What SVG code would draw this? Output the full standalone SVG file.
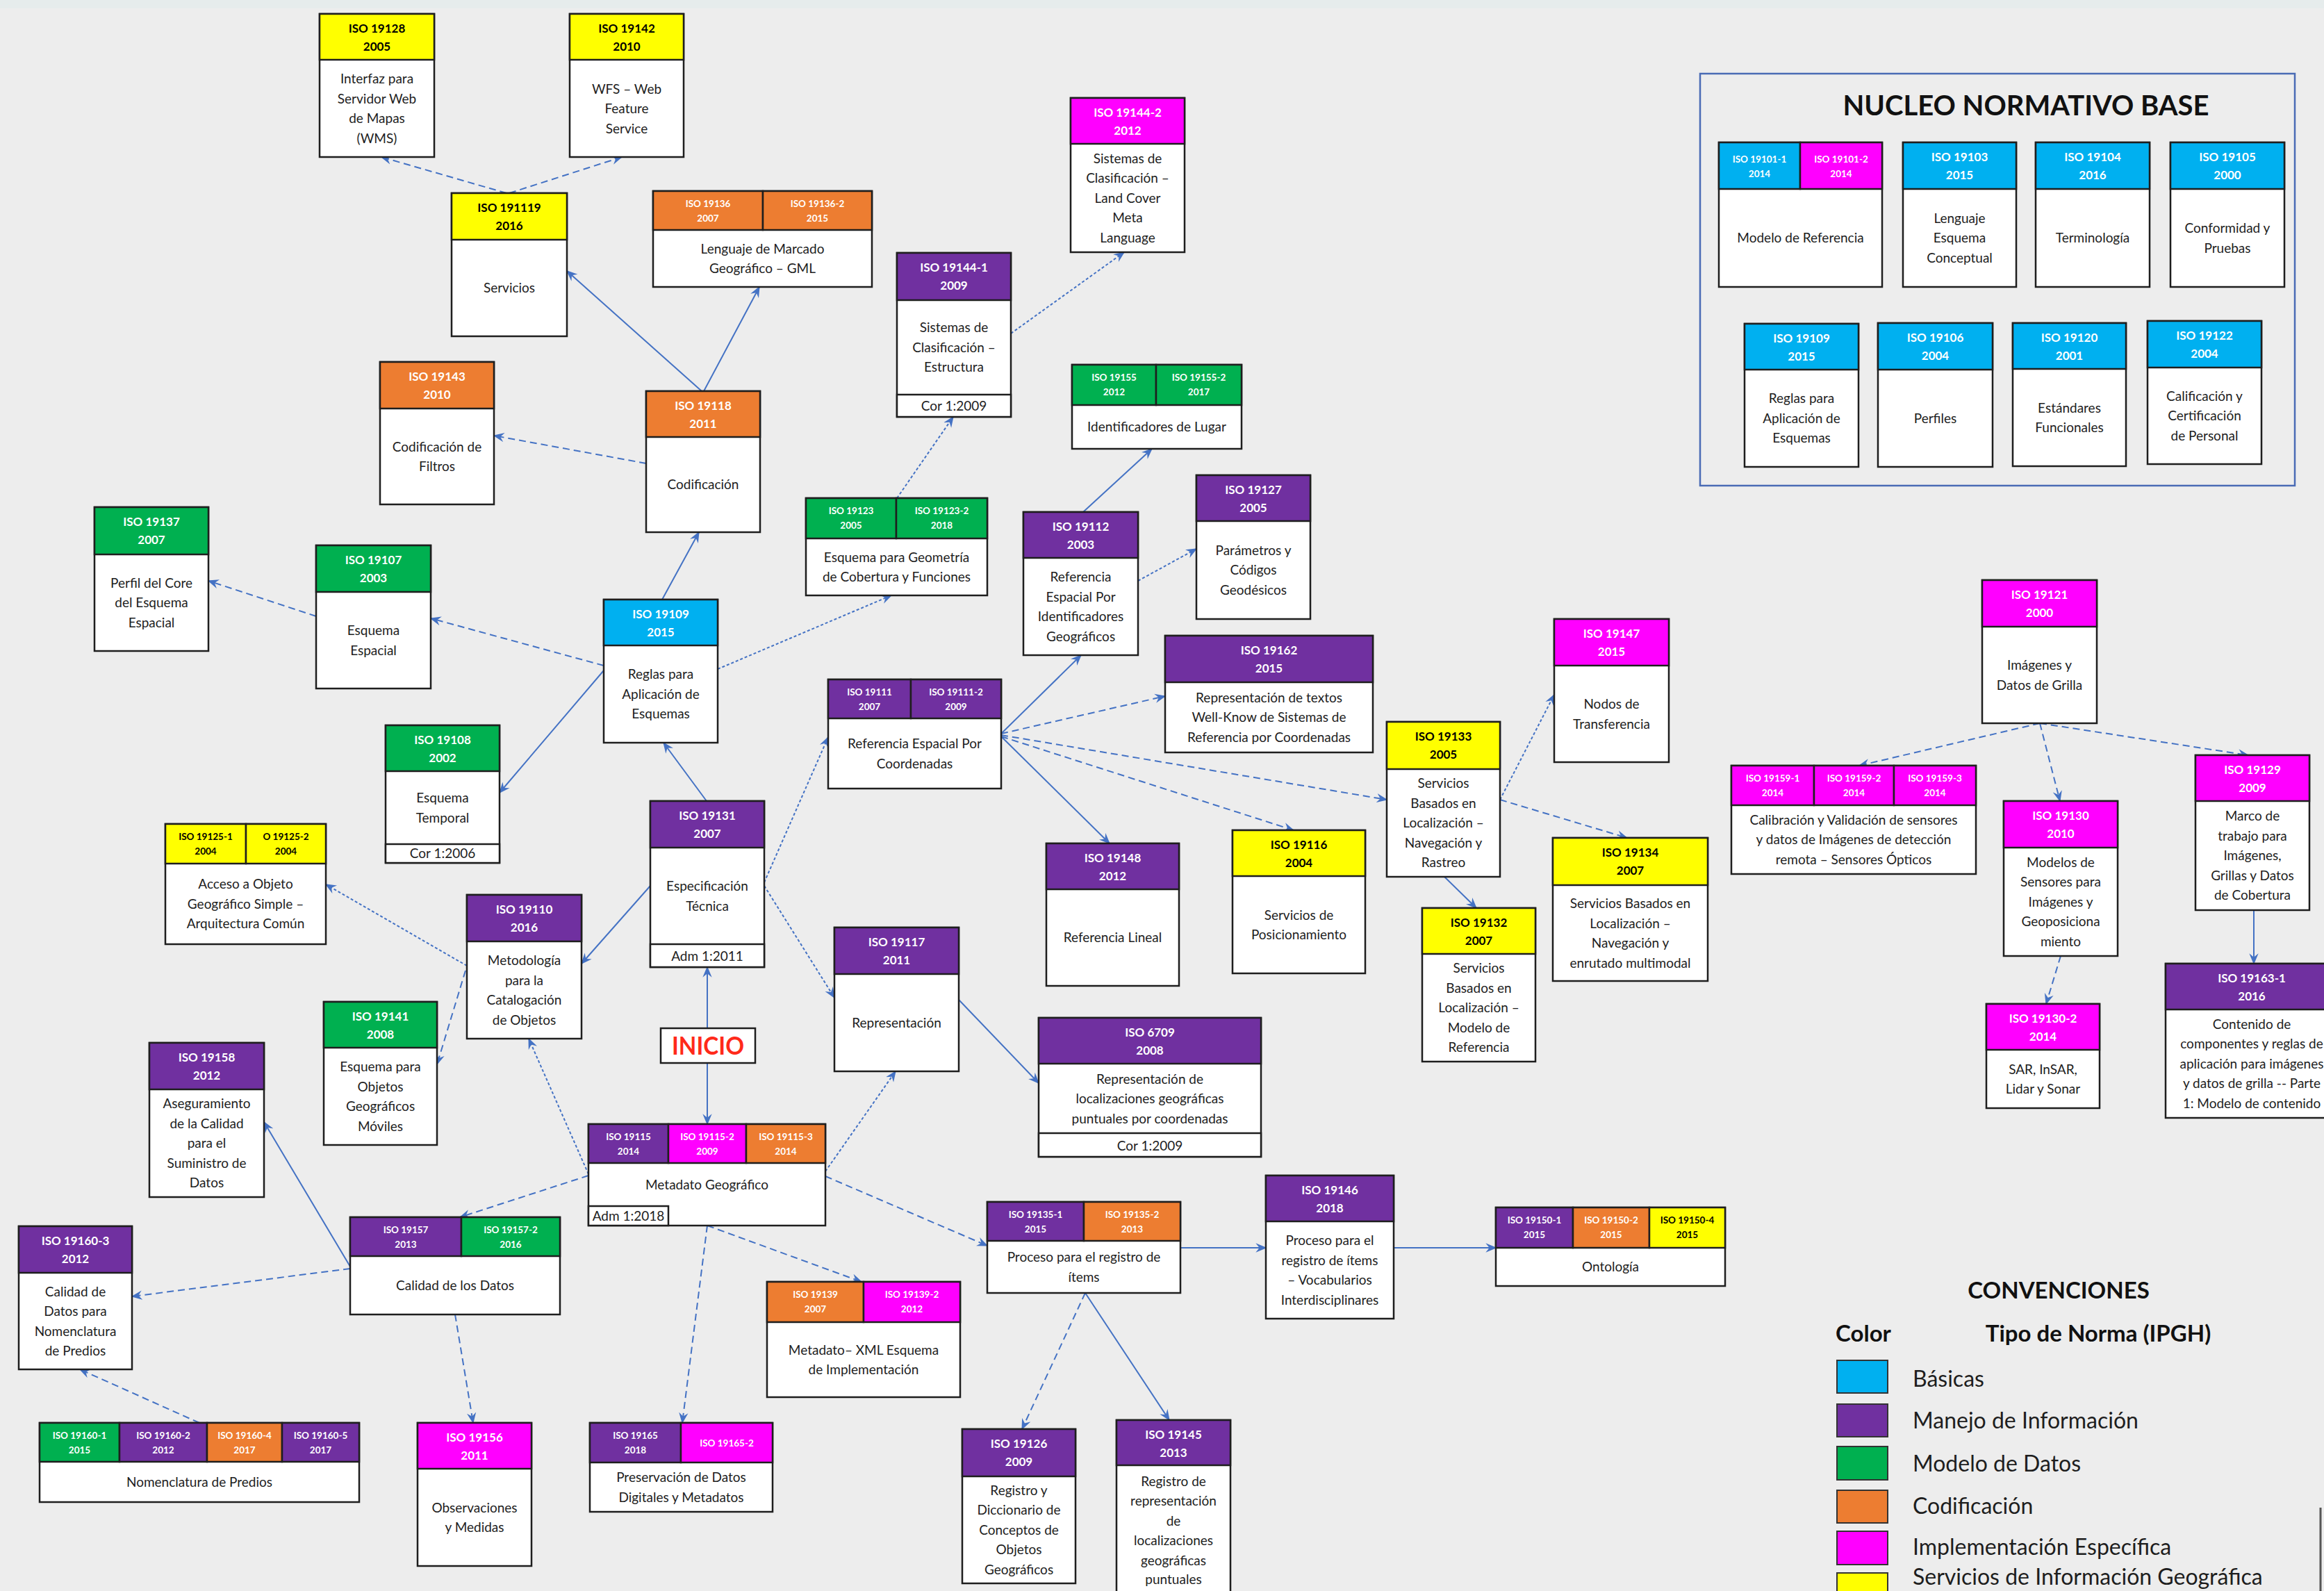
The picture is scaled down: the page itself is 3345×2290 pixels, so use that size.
<svg xmlns="http://www.w3.org/2000/svg" width="3345" height="2290" viewBox="0 0 3345 2290">
<defs>
<style>
text{font-family:Lato,"Liberation Sans",sans-serif}
.h{font-size:17px;font-weight:700;fill:#fff;text-anchor:middle}
.s{font-size:13.5px;font-weight:700;fill:#fff;text-anchor:middle}
.k{fill:#000}
.t{font-size:19px;fill:#1e1e1e;text-anchor:middle}
rect.n{stroke:#1e1e1e;stroke-width:2.5}
.w{fill:#fff}.cb{fill:#00b0f0}.pu{fill:#7030a0}.gr{fill:#00b050}.or{fill:#ed7d31}.mg{fill:#ff00ff}.ye{fill:#ffff00}
.c{fill:none;stroke:#4472c4;stroke-width:2;marker-end:url(#ah)}
.d{stroke-dasharray:10 6}
.o{stroke-dasharray:4 3}
.lt{font-size:33px;font-weight:700;fill:#111}
.lb{font-size:32px;fill:#1e1e1e}
.sw{stroke:#333;stroke-width:2}
</style>
<marker id="ah" viewBox="0 0 12 10" refX="11" refY="5" markerWidth="16" markerHeight="14" markerUnits="userSpaceOnUse" orient="auto"><path d="M0,0 L12,5 L0,10 L4,5 Z" fill="#4472c4"/></marker>
</defs>
<rect x="0" y="0" width="3345" height="2290" fill="#ededed"/>
<rect x="0" y="0" width="3345" height="12" fill="#e6ecec"/>
<line x1="3340" y1="2170" x2="3340" y2="2290" stroke="#555" stroke-width="3"/>

<g id="connectors">
<path class="c d" d="M729,278 L549,226"/>
<path class="c d" d="M733,278 L895,226"/>
<path class="c" d="M1013,563 L1093,413"/>
<path class="c" d="M1010,563 L816,390"/>
<path class="c d" d="M930,667 L711,627"/>
<path class="c o" d="M1291,717 L1372,600"/>
<path class="c o" d="M1455,480 L1618,363"/>
<path class="c" d="M1559,737 L1658,646"/>
<path class="c o" d="M1638,836 L1722,790"/>
<path class="c d" d="M455,887 L300,836"/>
<path class="c d" d="M869,958 L620,890"/>
<path class="c" d="M869,965 L719,1141"/>
<path class="c" d="M953,863 L1006,766"/>
<path class="c o" d="M1033,963 L1283,857"/>
<path class="c" d="M1017,1153 L955,1069"/>
<path class="c o" d="M1100,1270 L1192,1061"/>
<path class="c o" d="M1100,1275 L1201,1436"/>
<path class="c" d="M936,1275 L837,1387"/>
<path class="c" d="M1018,1480 L1018,1392"/>
<path class="c" d="M1018,1530 L1018,1618"/>
<path class="c" d="M1441,1056 L1556,943"/>
<path class="c d" d="M1441,1056 L1677,1002"/>
<path class="c d" d="M1441,1058 L1996,1151"/>
<path class="c d" d="M1441,1060 L1862,1195"/>
<path class="c" d="M1441,1060 L1597,1214"/>
<path class="c" d="M1380,1439 L1495,1559"/>
<path class="c o" d="M2159,1151 L2237,1000"/>
<path class="c d" d="M2159,1151 L2342,1206"/>
<path class="c" d="M2079,1262 L2125,1307"/>
<path class="c d" d="M2936,1041 L2676,1102"/>
<path class="c d" d="M2936,1041 L2965,1153"/>
<path class="c d" d="M2936,1041 L3236,1087"/>
<path class="c d" d="M2966,1376 L2945,1445"/>
<path class="c" d="M3244,1310 L3244,1387"/>
<path class="c o" d="M672,1390 L469,1273"/>
<path class="c d" d="M670,1397 L629,1532"/>
<path class="c o" d="M847,1690 L761,1495"/>
<path class="c d" d="M847,1692 L662,1752"/>
<path class="c" d="M504,1823 L380,1615"/>
<path class="c d" d="M504,1826 L190,1866"/>
<path class="c d" d="M287,2048 L115,1971"/>
<path class="c d" d="M655,1892 L681,2048"/>
<path class="c o" d="M1188,1686 L1289,1542"/>
<path class="c d" d="M1188,1693 L1421,1793"/>
<path class="c d" d="M1018,1764 L1240,1845"/>
<path class="c d" d="M1018,1764 L982,2048"/>
<path class="c" d="M1699,1796 L1822,1796"/>
<path class="c" d="M2006,1796 L2153,1796"/>
<path class="c d" d="M1562,1861 L1471,2057"/>
<path class="c" d="M1562,1861 L1683,2044"/>
</g>

<g id="n19128"><rect class="n w" x="460" y="20" width="165" height="206"/><rect class="n ye" x="460" y="20" width="165" height="66"/>
<text class="h k" x="542.5" y="47">ISO 19128</text><text class="h k" x="542.5" y="73">2005</text>
<text class="t"><tspan x="542.5" y="120">Interfaz para</tspan><tspan x="542.5" y="149">Servidor Web</tspan><tspan x="542.5" y="177">de Mapas</tspan><tspan x="542.5" y="206">(WMS)</tspan></text></g>

<g id="n19142"><rect class="n w" x="820" y="20" width="164" height="206"/><rect class="n ye" x="820" y="20" width="164" height="66"/>
<text class="h k" x="902" y="47">ISO 19142</text><text class="h k" x="902" y="73">2010</text>
<text class="t"><tspan x="902" y="135">WFS – Web</tspan><tspan x="902" y="163">Feature</tspan><tspan x="902" y="192">Service</tspan></text></g>

<g id="n191119"><rect class="n w" x="650" y="278" width="166" height="206"/><rect class="n ye" x="650" y="278" width="166" height="67"/>
<text class="h k" x="733" y="305">ISO 191119</text><text class="h k" x="733" y="331">2016</text>
<text class="t" x="733" y="421">Servicios</text></g>

<g id="n19136"><rect class="n w" x="940" y="275" width="315" height="138"/><rect class="n or" x="940" y="275" width="158" height="56"/><rect class="n or" x="1098" y="275" width="157" height="56"/>
<text class="s" x="1019" y="298">ISO 19136</text><text class="s" x="1019" y="319">2007</text><text class="s" x="1176.5" y="298">ISO 19136-2</text><text class="s" x="1176.5" y="319">2015</text>
<text class="t"><tspan x="1097.5" y="365">Lenguaje de Marcado</tspan><tspan x="1097.5" y="393">Geográfico – GML</tspan></text></g>

<g id="n19144-2"><rect class="n w" x="1541" y="141" width="164" height="222"/><rect class="n mg" x="1541" y="141" width="164" height="66"/>
<text class="h" x="1623" y="168">ISO 19144-2</text><text class="h" x="1623" y="194">2012</text>
<text class="t"><tspan x="1623" y="235">Sistemas de</tspan><tspan x="1623" y="263">Clasificación –</tspan><tspan x="1623" y="292">Land Cover</tspan><tspan x="1623" y="320">Meta</tspan><tspan x="1623" y="349">Language</tspan></text></g>

<g id="n19144-1"><rect class="n w" x="1291" y="364" width="164" height="236"/><rect class="n pu" x="1291" y="364" width="164" height="68"/><rect class="n w" x="1291" y="568" width="164" height="32"/>
<text class="h" x="1373" y="391">ISO 19144-1</text><text class="h" x="1373" y="417">2009</text>
<text class="t"><tspan x="1373" y="478">Sistemas de</tspan><tspan x="1373" y="507">Clasificación –</tspan><tspan x="1373" y="535">Estructura</tspan></text>
<text class="t" x="1373" y="591">Cor 1:2009</text></g>

<g id="n19143"><rect class="n w" x="547" y="521" width="164" height="205"/><rect class="n or" x="547" y="521" width="164" height="67"/>
<text class="h" x="629" y="548">ISO 19143</text><text class="h" x="629" y="574">2010</text>
<text class="t"><tspan x="629" y="650">Codificación de</tspan><tspan x="629" y="678">Filtros</tspan></text></g>

<g id="n19118"><rect class="n w" x="930" y="563" width="164" height="203"/><rect class="n or" x="930" y="563" width="164" height="66"/>
<text class="h" x="1012" y="590">ISO 19118</text><text class="h" x="1012" y="616">2011</text>
<text class="t" x="1012" y="704">Codificación</text></g>

<g id="n19155"><rect class="n w" x="1543" y="525" width="244" height="121"/><rect class="n gr" x="1543" y="525" width="121" height="58"/><rect class="n gr" x="1664" y="525" width="123" height="58"/>
<text class="s" x="1603.5" y="548">ISO 19155</text><text class="s" x="1603.5" y="569">2012</text><text class="s" x="1725.5" y="548">ISO 19155-2</text><text class="s" x="1725.5" y="569">2017</text>
<text class="t" x="1665" y="621">Identificadores de Lugar</text></g>

<g id="n19123"><rect class="n w" x="1160" y="717" width="261" height="140"/><rect class="n gr" x="1160" y="717" width="130" height="58"/><rect class="n gr" x="1290" y="717" width="131" height="58"/>
<text class="s" x="1225" y="740">ISO 19123</text><text class="s" x="1225" y="761">2005</text><text class="s" x="1355.5" y="740">ISO 19123-2</text><text class="s" x="1355.5" y="761">2018</text>
<text class="t"><tspan x="1290.5" y="809">Esquema para Geometría</tspan><tspan x="1290.5" y="837">de Cobertura y Funciones</tspan></text></g>

<g id="n19112"><rect class="n w" x="1473" y="737" width="165" height="206"/><rect class="n pu" x="1473" y="737" width="165" height="66"/>
<text class="h" x="1555.5" y="764">ISO 19112</text><text class="h" x="1555.5" y="790">2003</text>
<text class="t"><tspan x="1555.5" y="837">Referencia</tspan><tspan x="1555.5" y="866">Espacial Por</tspan><tspan x="1555.5" y="894">Identificadores</tspan><tspan x="1555.5" y="923">Geográficos</tspan></text></g>

<g id="n19127"><rect class="n w" x="1722" y="684" width="164" height="207"/><rect class="n pu" x="1722" y="684" width="164" height="66"/>
<text class="h" x="1804" y="711">ISO 19127</text><text class="h" x="1804" y="737">2005</text>
<text class="t"><tspan x="1804" y="799">Parámetros y</tspan><tspan x="1804" y="827">Códigos</tspan><tspan x="1804" y="856">Geodésicos</tspan></text></g>

<g id="n19137"><rect class="n w" x="136" y="730" width="164" height="207"/><rect class="n gr" x="136" y="730" width="164" height="68"/>
<text class="h" x="218" y="757">ISO 19137</text><text class="h" x="218" y="783">2007</text>
<text class="t"><tspan x="218" y="846">Perfil del Core</tspan><tspan x="218" y="874">del Esquema</tspan><tspan x="218" y="903">Espacial</tspan></text></g>

<g id="n19107"><rect class="n w" x="455" y="785" width="165" height="206"/><rect class="n gr" x="455" y="785" width="165" height="67"/>
<text class="h" x="537.5" y="812">ISO 19107</text><text class="h" x="537.5" y="838">2003</text>
<text class="t"><tspan x="537.5" y="914">Esquema</tspan><tspan x="537.5" y="943">Espacial</tspan></text></g>

<g id="n19109"><rect class="n w" x="869" y="863" width="164" height="206"/><rect class="n cb" x="869" y="863" width="164" height="66"/>
<text class="h" x="951" y="890">ISO 19109</text><text class="h" x="951" y="916">2015</text>
<text class="t"><tspan x="951" y="977">Reglas para</tspan><tspan x="951" y="1006">Aplicación de</tspan><tspan x="951" y="1034">Esquemas</tspan></text></g>

<g id="n19108"><rect class="n w" x="555" y="1044" width="164" height="198"/><rect class="n gr" x="555" y="1044" width="164" height="66"/><rect class="n w" x="555" y="1215" width="164" height="27"/>
<text class="h" x="637" y="1071">ISO 19108</text><text class="h" x="637" y="1097">2002</text>
<text class="t"><tspan x="637" y="1155">Esquema</tspan><tspan x="637" y="1184">Temporal</tspan></text>
<text class="t" x="637" y="1235">Cor 1:2006</text></g>

<g id="n19111"><rect class="n w" x="1192" y="978" width="249" height="157"/><rect class="n pu" x="1192" y="978" width="119" height="56"/><rect class="n pu" x="1311" y="978" width="130" height="56"/>
<text class="s" x="1251.5" y="1001">ISO 19111</text><text class="s" x="1251.5" y="1022">2007</text><text class="s" x="1376" y="1001">ISO 19111-2</text><text class="s" x="1376" y="1022">2009</text>
<text class="t"><tspan x="1316.5" y="1077">Referencia Espacial Por</tspan><tspan x="1316.5" y="1106">Coordenadas</tspan></text></g>

<g id="n19162"><rect class="n w" x="1677" y="915" width="299" height="168"/><rect class="n pu" x="1677" y="915" width="299" height="67"/>
<text class="h" x="1826.5" y="942">ISO 19162</text><text class="h" x="1826.5" y="968">2015</text>
<text class="t"><tspan x="1826.5" y="1011">Representación de textos</tspan><tspan x="1826.5" y="1039">Well-Know de Sistemas de</tspan><tspan x="1826.5" y="1068">Referencia  por Coordenadas</tspan></text></g>

<g id="n19147"><rect class="n w" x="2237" y="891" width="165" height="206"/><rect class="n mg" x="2237" y="891" width="165" height="67"/>
<text class="h" x="2319.5" y="918">ISO 19147</text><text class="h" x="2319.5" y="944">2015</text>
<text class="t"><tspan x="2319.5" y="1020">Nodos de</tspan><tspan x="2319.5" y="1049">Transferencia</tspan></text></g>

<g id="n19133"><rect class="n w" x="1996" y="1039" width="163" height="223"/><rect class="n ye" x="1996" y="1039" width="163" height="68"/>
<text class="h k" x="2077.5" y="1066">ISO 19133</text><text class="h k" x="2077.5" y="1092">2005</text>
<text class="t"><tspan x="2077.5" y="1134">Servicios</tspan><tspan x="2077.5" y="1163">Basados en</tspan><tspan x="2077.5" y="1191">Localización –</tspan><tspan x="2077.5" y="1220">Navegación y</tspan><tspan x="2077.5" y="1248">Rastreo</tspan></text></g>

<g id="n19125"><rect class="n w" x="238" y="1186" width="231" height="173"/><rect class="n ye" x="238" y="1186" width="116" height="57"/><rect class="n ye" x="354" y="1186" width="115" height="57"/>
<text class="s k" x="296" y="1209">ISO 19125-1</text><text class="s k" x="296" y="1230">2004</text><text class="s k" x="411.5" y="1209">O 19125-2</text><text class="s k" x="411.5" y="1230">2004</text>
<text class="t"><tspan x="353.5" y="1279">Acceso a Objeto</tspan><tspan x="353.5" y="1308">Geográfico Simple –</tspan><tspan x="353.5" y="1336">Arquitectura Común</tspan></text></g>

<g id="n19131"><rect class="n w" x="936" y="1153" width="164" height="239"/><rect class="n pu" x="936" y="1153" width="164" height="67"/><rect class="n w" x="936" y="1359" width="164" height="33"/>
<text class="h" x="1018" y="1180">ISO 19131</text><text class="h" x="1018" y="1206">2007</text>
<text class="t"><tspan x="1018" y="1282">Especificación</tspan><tspan x="1018" y="1311">Técnica</tspan></text>
<text class="t" x="1018" y="1383">Adm 1:2011</text></g>

<g id="n19148"><rect class="n w" x="1506" y="1214" width="191" height="205"/><rect class="n pu" x="1506" y="1214" width="191" height="66"/>
<text class="h" x="1601.5" y="1241">ISO 19148</text><text class="h" x="1601.5" y="1267">2012</text>
<text class="t" x="1601.5" y="1356">Referencia  Lineal</text></g>

<g id="n19116"><rect class="n w" x="1774" y="1195" width="191" height="206"/><rect class="n ye" x="1774" y="1195" width="191" height="66"/>
<text class="h k" x="1869.5" y="1222">ISO 19116</text><text class="h k" x="1869.5" y="1248">2004</text>
<text class="t"><tspan x="1869.5" y="1324">Servicios de</tspan><tspan x="1869.5" y="1352">Posicionamiento</tspan></text></g>

<g id="n19134"><rect class="n w" x="2235" y="1206" width="223" height="206"/><rect class="n ye" x="2235" y="1206" width="223" height="68"/>
<text class="h k" x="2346.5" y="1233">ISO 19134</text><text class="h k" x="2346.5" y="1259">2007</text>
<text class="t"><tspan x="2346.5" y="1307">Servicios Basados en</tspan><tspan x="2346.5" y="1336">Localización –</tspan><tspan x="2346.5" y="1364">Navegación y</tspan><tspan x="2346.5" y="1393">enrutado multimodal</tspan></text></g>

<g id="n19110"><rect class="n w" x="672" y="1288" width="165" height="207"/><rect class="n pu" x="672" y="1288" width="165" height="67"/>
<text class="h" x="754.5" y="1315">ISO 19110</text><text class="h" x="754.5" y="1341">2016</text>
<text class="t"><tspan x="754.5" y="1389">Metodología</tspan><tspan x="754.5" y="1418">para la</tspan><tspan x="754.5" y="1446">Catalogación</tspan><tspan x="754.5" y="1475">de Objetos</tspan></text></g>

<g id="n19132"><rect class="n w" x="2047" y="1307" width="163" height="221"/><rect class="n ye" x="2047" y="1307" width="163" height="66"/>
<text class="h k" x="2128.5" y="1334">ISO 19132</text><text class="h k" x="2128.5" y="1360">2007</text>
<text class="t"><tspan x="2128.5" y="1400">Servicios</tspan><tspan x="2128.5" y="1429">Basados en</tspan><tspan x="2128.5" y="1457">Localización –</tspan><tspan x="2128.5" y="1486">Modelo de</tspan><tspan x="2128.5" y="1514">Referencia</tspan></text></g>

<g id="n19117"><rect class="n w" x="1201" y="1335" width="179" height="207"/><rect class="n pu" x="1201" y="1335" width="179" height="67"/>
<text class="h" x="1290.5" y="1362">ISO 19117</text><text class="h" x="1290.5" y="1388">2011</text>
<text class="t" x="1290.5" y="1479">Representación</text></g>

<g id="n19141"><rect class="n w" x="466" y="1442" width="163" height="206"/><rect class="n gr" x="466" y="1442" width="163" height="66"/>
<text class="h" x="547.5" y="1469">ISO 19141</text><text class="h" x="547.5" y="1495">2008</text>
<text class="t"><tspan x="547.5" y="1542">Esquema para</tspan><tspan x="547.5" y="1571">Objetos</tspan><tspan x="547.5" y="1599">Geográficos</tspan><tspan x="547.5" y="1628">Móviles</tspan></text></g>

<g id="inicio"><rect x="951" y="1480" width="136" height="50" fill="#fff" stroke="#1e1e1e" stroke-width="2.5"/>
<text x="1019" y="1518" text-anchor="middle" font-size="36" font-weight="700" fill="#ff2a1a" textLength="104" lengthAdjust="spacingAndGlyphs">INICIO</text></g>

<g id="n6709"><rect class="n w" x="1495" y="1465" width="320" height="200"/><rect class="n pu" x="1495" y="1465" width="320" height="66"/><rect class="n w" x="1495" y="1631" width="320" height="34"/>
<text class="h" x="1655" y="1492">ISO 6709</text><text class="h" x="1655" y="1518">2008</text>
<text class="t"><tspan x="1655" y="1560">Representación de</tspan><tspan x="1655" y="1588">localizaciones geográficas</tspan><tspan x="1655" y="1617">puntuales por coordenadas</tspan></text>
<text class="t" x="1655" y="1656">Cor 1:2009</text></g>

<g id="n19158"><rect class="n w" x="215" y="1501" width="165" height="222"/><rect class="n pu" x="215" y="1501" width="165" height="67"/>
<text class="h" x="297.5" y="1528">ISO 19158</text><text class="h" x="297.5" y="1554">2012</text>
<text class="t"><tspan x="297.5" y="1595">Aseguramiento</tspan><tspan x="297.5" y="1624">de la Calidad</tspan><tspan x="297.5" y="1652">para el</tspan><tspan x="297.5" y="1681">Suministro de</tspan><tspan x="297.5" y="1709">Datos</tspan></text></g>

<g id="n19115"><rect class="n w" x="847" y="1618" width="341" height="146"/><rect class="n pu" x="847" y="1618" width="115" height="56"/><rect class="n mg" x="962" y="1618" width="112" height="56"/><rect class="n or" x="1074" y="1618" width="114" height="56"/><rect class="n w" x="847" y="1736" width="115" height="28"/>
<text class="s" x="904.5" y="1641">ISO 19115</text><text class="s" x="904.5" y="1662">2014</text><text class="s" x="1018" y="1641">ISO 19115-2</text><text class="s" x="1018" y="1662">2009</text><text class="s" x="1131" y="1641">ISO 19115-3</text><text class="s" x="1131" y="1662">2014</text>
<text class="t" x="1017.5" y="1712">Metadato Geográfico</text>
<text class="t" x="904.5" y="1757" font-size="17">Adm 1:2018</text></g>

<g id="n19135"><rect class="n w" x="1421" y="1730" width="278" height="131"/><rect class="n pu" x="1421" y="1730" width="139" height="56"/><rect class="n or" x="1560" y="1730" width="139" height="56"/>
<text class="s" x="1490.5" y="1753">ISO 19135-1</text><text class="s" x="1490.5" y="1774">2015</text><text class="s" x="1629.5" y="1753">ISO 19135-2</text><text class="s" x="1629.5" y="1774">2013</text>
<text class="t"><tspan x="1560" y="1816">Proceso para el registro de</tspan><tspan x="1560" y="1845">ítems</tspan></text></g>

<g id="n19146"><rect class="n w" x="1822" y="1692" width="184" height="206"/><rect class="n pu" x="1822" y="1692" width="184" height="66"/>
<text class="h" x="1914" y="1719">ISO 19146</text><text class="h" x="1914" y="1745">2018</text>
<text class="t"><tspan x="1914" y="1792">Proceso para el</tspan><tspan x="1914" y="1821">registro de ítems</tspan><tspan x="1914" y="1849">– Vocabularios</tspan><tspan x="1914" y="1878">Interdisciplinares</tspan></text></g>

<g id="n19150"><rect class="n w" x="2153" y="1738" width="330" height="113"/><rect class="n pu" x="2153" y="1738" width="111" height="58"/><rect class="n or" x="2264" y="1738" width="110" height="58"/><rect class="n ye" x="2374" y="1738" width="109" height="58"/>
<text class="s" x="2208.5" y="1761">ISO 19150-1</text><text class="s" x="2208.5" y="1782">2015</text><text class="s" x="2319" y="1761">ISO 19150-2</text><text class="s" x="2319" y="1782">2015</text><text class="s k" x="2428.5" y="1761">ISO 19150-4</text><text class="s k" x="2428.5" y="1782">2015</text>
<text class="t" x="2318" y="1830">Ontología</text></g>

<g id="n19160-3"><rect class="n w" x="27" y="1765" width="163" height="206"/><rect class="n pu" x="27" y="1765" width="163" height="67"/>
<text class="h" x="108.5" y="1792">ISO 19160-3</text><text class="h" x="108.5" y="1818">2012</text>
<text class="t"><tspan x="108.5" y="1866">Calidad de</tspan><tspan x="108.5" y="1894">Datos para</tspan><tspan x="108.5" y="1923">Nomenclatura</tspan><tspan x="108.5" y="1951">de Predios</tspan></text></g>

<g id="n19157"><rect class="n w" x="504" y="1752" width="302" height="140"/><rect class="n pu" x="504" y="1752" width="160" height="56"/><rect class="n gr" x="664" y="1752" width="142" height="56"/>
<text class="s" x="584" y="1775">ISO 19157</text><text class="s" x="584" y="1796">2013</text><text class="s" x="735" y="1775">ISO 19157-2</text><text class="s" x="735" y="1796">2016</text>
<text class="t" x="655" y="1857">Calidad de los Datos</text></g>

<g id="n19139"><rect class="n w" x="1104" y="1845" width="278" height="166"/><rect class="n or" x="1104" y="1845" width="139" height="58"/><rect class="n mg" x="1243" y="1845" width="139" height="58"/>
<text class="s" x="1173.5" y="1868">ISO 19139</text><text class="s" x="1173.5" y="1889">2007</text><text class="s" x="1312.5" y="1868">ISO 19139-2</text><text class="s" x="1312.5" y="1889">2012</text>
<text class="t"><tspan x="1243" y="1950">Metadato– XML Esquema</tspan><tspan x="1243" y="1978">de Implementación</tspan></text></g>

<g id="n19160"><rect class="n w" x="57" y="2048" width="460" height="114"/><rect class="n gr" x="57" y="2048" width="115" height="56"/><rect class="n pu" x="172" y="2048" width="126" height="56"/><rect class="n or" x="298" y="2048" width="108" height="56"/><rect class="n pu" x="406" y="2048" width="111" height="56"/>
<text class="s" x="114.5" y="2071">ISO 19160-1</text><text class="s" x="114.5" y="2092">2015</text><text class="s" x="235" y="2071">ISO 19160-2</text><text class="s" x="235" y="2092">2012</text><text class="s" x="352" y="2071">ISO 19160-4</text><text class="s" x="352" y="2092">2017</text><text class="s" x="461.5" y="2071">ISO 19160-5</text><text class="s" x="461.5" y="2092">2017</text>
<text class="t" x="287" y="2140">Nomenclatura de Predios</text></g>

<g id="n19156"><rect class="n w" x="601" y="2048" width="164" height="206"/><rect class="n mg" x="601" y="2048" width="164" height="66"/>
<text class="h" x="683" y="2075">ISO 19156</text><text class="h" x="683" y="2101">2011</text>
<text class="t"><tspan x="683" y="2177">Observaciones</tspan><tspan x="683" y="2205">y Medidas</tspan></text></g>

<g id="n19165"><rect class="n w" x="849" y="2048" width="263" height="128"/><rect class="n pu" x="849" y="2048" width="131" height="57"/><rect class="n mg" x="980" y="2048" width="132" height="57"/>
<text class="s" x="914.5" y="2071">ISO 19165</text><text class="s" x="914.5" y="2092">2018</text><text class="s" x="1046" y="2082">ISO 19165-2</text>
<text class="t"><tspan x="980.5" y="2133">Preservación de Datos</tspan><tspan x="980.5" y="2162">Digitales y Metadatos</tspan></text></g>

<g id="n19126"><rect class="n w" x="1385" y="2057" width="163" height="222"/><rect class="n pu" x="1385" y="2057" width="163" height="68"/>
<text class="h" x="1466.5" y="2084">ISO 19126</text><text class="h" x="1466.5" y="2110">2009</text>
<text class="t"><tspan x="1466.5" y="2152">Registro y</tspan><tspan x="1466.5" y="2180">Diccionario de</tspan><tspan x="1466.5" y="2209">Conceptos de</tspan><tspan x="1466.5" y="2237">Objetos</tspan><tspan x="1466.5" y="2266">Geográficos</tspan></text></g>

<g id="n19145"><rect class="n w" x="1607" y="2044" width="164" height="260"/><rect class="n pu" x="1607" y="2044" width="164" height="65"/>
<text class="h" x="1689" y="2071">ISO 19145</text><text class="h" x="1689" y="2097">2013</text>
<text class="t"><tspan x="1689" y="2139">Registro de</tspan><tspan x="1689" y="2167">representación</tspan><tspan x="1689" y="2196">de</tspan><tspan x="1689" y="2224">localizaciones</tspan><tspan x="1689" y="2253">geográficas</tspan><tspan x="1689" y="2280">puntuales</tspan></text></g>

<g id="n19121"><rect class="n w" x="2853" y="835" width="165" height="206"/><rect class="n mg" x="2853" y="835" width="165" height="67"/>
<text class="h" x="2935.5" y="862">ISO 19121</text><text class="h" x="2935.5" y="888">2000</text>
<text class="t"><tspan x="2935.5" y="964">Imágenes y</tspan><tspan x="2935.5" y="993">Datos de Grilla</tspan></text></g>

<g id="n19159"><rect class="n w" x="2492" y="1102" width="352" height="156"/><rect class="n mg" x="2492" y="1102" width="119" height="57"/><rect class="n mg" x="2611" y="1102" width="115" height="57"/><rect class="n mg" x="2726" y="1102" width="118" height="57"/>
<text class="s" x="2551.5" y="1125">ISO 19159-1</text><text class="s" x="2551.5" y="1146">2014</text><text class="s" x="2668.5" y="1125">ISO 19159-2</text><text class="s" x="2668.5" y="1146">2014</text><text class="s" x="2785" y="1125">ISO 19159-3</text><text class="s" x="2785" y="1146">2014</text>
<text class="t"><tspan x="2668" y="1187">Calibración y Validación de sensores</tspan><tspan x="2668" y="1215">y datos de Imágenes de detección</tspan><tspan x="2668" y="1244">remota – Sensores Ópticos</tspan></text></g>

<g id="n19130"><rect class="n w" x="2884" y="1153" width="164" height="223"/><rect class="n mg" x="2884" y="1153" width="164" height="67"/>
<text class="h" x="2966" y="1180">ISO 19130</text><text class="h" x="2966" y="1206">2010</text>
<text class="t"><tspan x="2966" y="1248">Modelos de</tspan><tspan x="2966" y="1276">Sensores para</tspan><tspan x="2966" y="1305">Imágenes y</tspan><tspan x="2966" y="1333">Geoposiciona</tspan><tspan x="2966" y="1362">miento</tspan></text></g>

<g id="n19129"><rect class="n w" x="3160" y="1087" width="164" height="223"/><rect class="n mg" x="3160" y="1087" width="164" height="66"/>
<text class="h" x="3242" y="1114">ISO 19129</text><text class="h" x="3242" y="1140">2009</text>
<text class="t"><tspan x="3242" y="1181">Marco de</tspan><tspan x="3242" y="1210">trabajo para</tspan><tspan x="3242" y="1238">Imágenes,</tspan><tspan x="3242" y="1267">Grillas y Datos</tspan><tspan x="3242" y="1295">de Cobertura</tspan></text></g>

<g id="n19130-2"><rect class="n w" x="2859" y="1445" width="163" height="150"/><rect class="n mg" x="2859" y="1445" width="163" height="66"/>
<text class="h" x="2940.5" y="1472">ISO 19130-2</text><text class="h" x="2940.5" y="1498">2014</text>
<text class="t"><tspan x="2940.5" y="1546">SAR, InSAR,</tspan><tspan x="2940.5" y="1574">Lidar y Sonar</tspan></text></g>

<g id="n19163-1"><rect class="n w" x="3117" y="1387" width="248" height="222"/><rect class="n pu" x="3117" y="1387" width="248" height="66"/>
<text class="h" x="3241" y="1414">ISO 19163-1</text><text class="h" x="3241" y="1440">2016</text>
<text class="t"><tspan x="3241" y="1481">Contenido de</tspan><tspan x="3241" y="1509">componentes y reglas de</tspan><tspan x="3241" y="1538">aplicación para imágenes</tspan><tspan x="3241" y="1566">y datos de grilla -- Parte</tspan><tspan x="3241" y="1595">1: Modelo de contenido</tspan></text></g>

<g id="nucleo">
<rect x="2447" y="106" width="856" height="593" fill="none" stroke="#4a6bb5" stroke-width="2.5"/>
<text x="2916" y="166" text-anchor="middle" font-size="40" font-weight="700" fill="#111">NUCLEO NORMATIVO BASE</text>
<g id="n19101"><rect class="n w" x="2474" y="205" width="235" height="208"/><rect class="n cb" x="2474" y="205" width="117" height="67"/><rect class="n mg" x="2591" y="205" width="118" height="67"/>
<text class="s" x="2532.5" y="234">ISO 19101-1</text><text class="s" x="2532.5" y="255">2014</text><text class="s" x="2650" y="234">ISO 19101-2</text><text class="s" x="2650" y="255">2014</text>
<text class="t" x="2591.5" y="349">Modelo de Referencia</text></g>
<g id="n19103"><rect class="n w" x="2739" y="205" width="163" height="208"/><rect class="n cb" x="2739" y="205" width="163" height="67"/>
<text class="h" x="2820.5" y="232">ISO 19103</text><text class="h" x="2820.5" y="258">2015</text>
<text class="t"><tspan x="2820.5" y="321">Lenguaje</tspan><tspan x="2820.5" y="349">Esquema</tspan><tspan x="2820.5" y="378">Conceptual</tspan></text></g>
<g id="n19104"><rect class="n w" x="2930" y="205" width="164" height="208"/><rect class="n cb" x="2930" y="205" width="164" height="67"/>
<text class="h" x="3012" y="232">ISO 19104</text><text class="h" x="3012" y="258">2016</text>
<text class="t" x="3012" y="349">Terminología</text></g>
<g id="n19105"><rect class="n w" x="3124" y="205" width="164" height="208"/><rect class="n cb" x="3124" y="205" width="164" height="67"/>
<text class="h" x="3206" y="232">ISO 19105</text><text class="h" x="3206" y="258">2000</text>
<text class="t"><tspan x="3206" y="335">Conformidad y</tspan><tspan x="3206" y="364">Pruebas</tspan></text></g>
<g id="n19109b"><rect class="n w" x="2511" y="466" width="164" height="206"/><rect class="n cb" x="2511" y="466" width="164" height="66"/>
<text class="h" x="2593" y="493">ISO 19109</text><text class="h" x="2593" y="519">2015</text>
<text class="t"><tspan x="2593" y="580">Reglas para</tspan><tspan x="2593" y="609">Aplicación de</tspan><tspan x="2593" y="637">Esquemas</tspan></text></g>
<g id="n19106"><rect class="n w" x="2703" y="465" width="165" height="207"/><rect class="n cb" x="2703" y="465" width="165" height="67"/>
<text class="h" x="2785.5" y="492">ISO 19106</text><text class="h" x="2785.5" y="518">2004</text>
<text class="t" x="2785.5" y="609">Perfiles</text></g>
<g id="n19120"><rect class="n w" x="2897" y="465" width="163" height="206"/><rect class="n cb" x="2897" y="465" width="163" height="66"/>
<text class="h" x="2978.5" y="492">ISO 19120</text><text class="h" x="2978.5" y="518">2001</text>
<text class="t"><tspan x="2978.5" y="594">Estándares</tspan><tspan x="2978.5" y="622">Funcionales</tspan></text></g>
<g id="n19122"><rect class="n w" x="3091" y="462" width="164" height="206"/><rect class="n cb" x="3091" y="462" width="164" height="67"/>
<text class="h" x="3173" y="489">ISO 19122</text><text class="h" x="3173" y="515">2004</text>
<text class="t"><tspan x="3173" y="577">Calificación y</tspan><tspan x="3173" y="605">Certificación</tspan><tspan x="3173" y="634">de Personal</tspan></text></g>
</g>

<g id="legend">
<text class="lt" x="2963" y="1869" text-anchor="middle">CONVENCIONES</text>
<text class="lt" x="2642" y="1931" font-size="30">Color</text>
<text class="lt" x="3020" y="1931" text-anchor="middle" font-size="30">Tipo de Norma (IPGH)</text>
<rect class="sw cb" x="2644" y="1958" width="73" height="47"/>
<rect class="sw pu" x="2644" y="2021" width="73" height="47"/>
<rect class="sw gr" x="2644" y="2082" width="73" height="48"/>
<rect class="sw or" x="2644" y="2145" width="73" height="47"/>
<rect class="sw mg" x="2644" y="2204" width="73" height="48"/>
<rect class="sw ye" x="2644" y="2264" width="73" height="48"/>
<text class="lb" x="2753" y="1996">Básicas</text>
<text class="lb" x="2753" y="2056">Manejo de Información</text>
<text class="lb" x="2753" y="2118">Modelo de Datos</text>
<text class="lb" x="2753" y="2179">Codificación</text>
<text class="lb" x="2753" y="2238">Implementación Específica</text>
<text class="lb" x="2753" y="2281" font-size="30">Servicios de Información Geográfica</text>
</g>
</svg>
